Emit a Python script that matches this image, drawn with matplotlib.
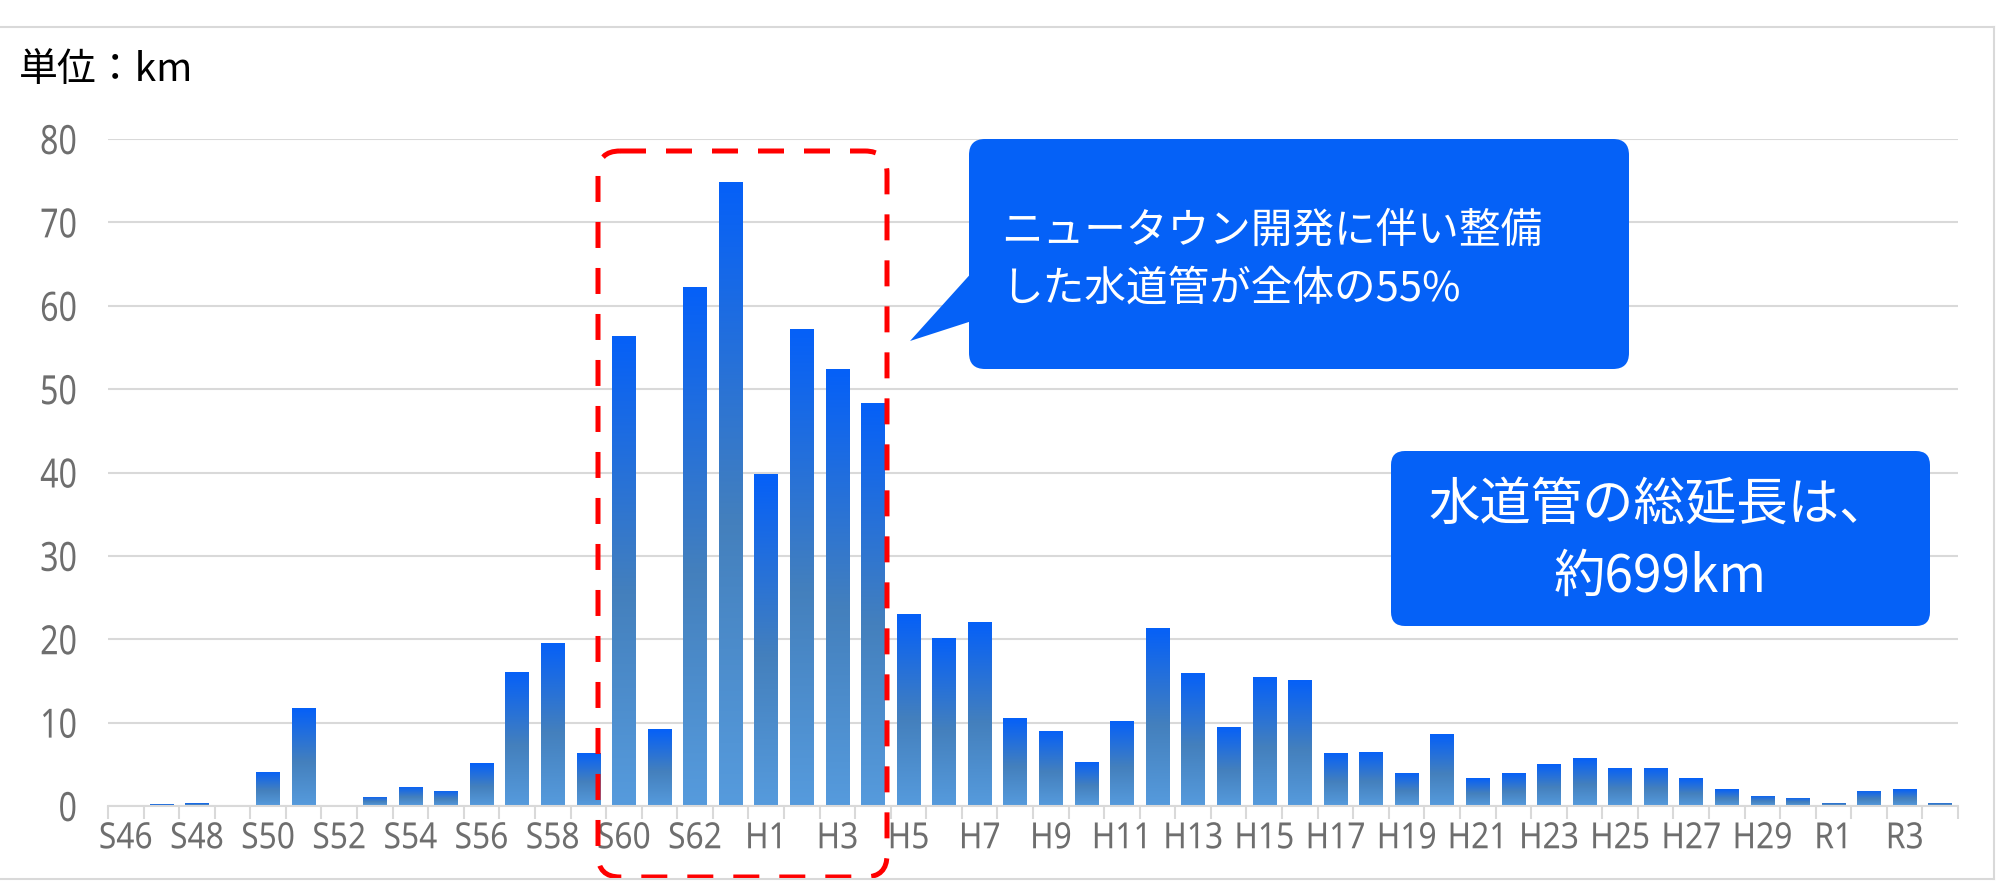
import numpy as np
import matplotlib
matplotlib.use("Agg")
import matplotlib.pyplot as plt
from matplotlib.colors import LinearSegmentedColormap
from matplotlib.patches import FancyBboxPatch, Polygon
from matplotlib.lines import Line2D
from matplotlib.patheffects import AbstractPathEffect
from matplotlib.transforms import Affine2D

# 年度 (S46〜S63, H1〜H30, R1〜R4)
years = ([f"S{i}" for i in range(46, 64)] + [f"H{i}" for i in range(1, 31)]
         + [f"R{i}" for i in range(1, 5)])

# 布設延長 (km)
lengths = [0.0, 0.2, 0.3, 0.0, 4.1, 11.7, 0.0, 1.1, 2.3, 1.8, 5.1, 16.1, 19.6, 6.4,
           56.4, 9.2, 62.2, 74.9,
           39.8, 57.2, 52.4, 48.3, 23.0, 20.2, 22.1, 10.5, 9.0, 5.3, 10.2, 21.4,
           16.0, 9.5, 15.5, 15.1, 6.4, 6.5, 4.0, 8.6, 3.3, 3.9, 5.0, 5.7, 4.6,
           4.6, 3.3, 2.0, 1.2, 1.0,
           0.4, 1.8, 2.0, 0.4]

yticks = [0, 10, 20, 30, 40, 50, 60, 70, 80]

unit_label = "単位：km"
note_lines = ["ニュータウン開発に伴い整備", "した水道管が全体の55%"]
total_lines = ["水道管の総延長は、", "約699km"]

GRID = "#D9D9D9"
TICK_TXT = "#6E6E6E"
BOX_BLUE = "#0561F7"
JP = "Noto Sans CJK JP"
TICK_FONT = ["Noto Sans", "DejaVu Sans"]


class Squeeze(AbstractPathEffect):
    """文字を横方向に詰めて描く (細い書体の代わり)"""

    def __init__(self, sx, anchor="center"):
        super().__init__()
        self.sx = sx
        self.anchor = anchor

    def draw_path(self, renderer, gc, tpath, affine, rgbFace=None):
        ext = tpath.get_extents()
        if self.anchor == "left":
            cx = ext.x0
        elif self.anchor == "right":
            cx = ext.x1
        else:
            cx = (ext.x0 + ext.x1) / 2
        sq = Affine2D().translate(-cx, 0).scale(self.sx, 1).translate(cx, 0)
        renderer.draw_path(gc, tpath, sq + affine, rgbFace)


W, H, DPI = 2000, 887, 100
fig = plt.figure(figsize=(W / DPI, H / DPI), dpi=DPI)
ax = fig.add_axes([108 / W, 1 - 807 / H, (1958 - 108) / W, (807 - 140) / H])

x = np.arange(len(years))
bars = ax.bar(x, lengths, width=0.66, color="none", edgecolor="none", zorder=3)

# グラデーション塗り
cmap = LinearSegmentedColormap.from_list(
    "bar", [(0.0, "#0560F8"), (0.55, "#4480BD"), (1.0, "#569BDD")])
grad = np.linspace(0, 1, 256).reshape(-1, 1)
for b in bars:
    h = b.get_height()
    if h <= 0:
        continue
    x0 = b.get_x()
    im = ax.imshow(grad, cmap=cmap, aspect="auto", origin="upper",
                   extent=(x0, x0 + b.get_width(), 0, h), zorder=3)
    im.set_clip_path(b)

ax.set_xlim(-0.5, len(years) - 0.5)
ax.set_ylim(0, 80)

ax.set_yticks(yticks)
ylabels = ax.set_yticklabels([str(v) for v in yticks], family=TICK_FONT,
                             fontsize=29, color=TICK_TXT)
ax.yaxis.grid(True, color=GRID, linewidth=1.5, zorder=0)
ax.set_axisbelow(True)

ax.set_xticks(x[::2])
xlabels = ax.set_xticklabels(years[::2], family=TICK_FONT, fontsize=26,
                             color=TICK_TXT)
ax.set_xticks(np.arange(-0.5, len(years), 1), minor=True)
ax.tick_params(axis="x", which="major", length=0, pad=11)
ax.tick_params(axis="x", which="minor", length=9, width=1.5, color=GRID, direction="out")
ax.tick_params(axis="y", length=0, pad=22)

for t in xlabels:
    t.set_path_effects([Squeeze(0.88, "center")])
for t in ylabels:
    t.set_path_effects([Squeeze(0.8, "right")])

for s in ["top", "right", "left"]:
    ax.spines[s].set_visible(False)
ax.spines["bottom"].set_color(GRID)
ax.spines["bottom"].set_linewidth(1.5)
ax.spines["bottom"].set_zorder(4)

# 注記用レイヤー (ピクセル座標)
ov = fig.add_axes([0, 0, 1, 1], zorder=5)
ov.set_xlim(0, W)
ov.set_ylim(H, 0)
ov.axis("off")
ov.patch.set_visible(False)

# 枠線
for xs, ys in [([0, 1994], [28, 28]), ([1994, 1994], [28, 880]), ([0, 1994], [880, 880])]:
    ov.add_line(Line2D(xs, ys, color=GRID, linewidth=1.5))

ov.text(19, 70, unit_label, family=JP, fontsize=28, color="black",
        ha="left", va="center")

# 赤い点線の囲み
ov.add_patch(FancyBboxPatch((598, 152), 289, 726,
                            boxstyle="round,pad=0,rounding_size=22",
                            facecolor="none", edgecolor="#FF0000",
                            linewidth=3.6, linestyle=(0, (5.2, 4.0))))

# 吹き出し
ov.add_patch(FancyBboxPatch((969, 140), 660, 230,
                            boxstyle="round,pad=0,rounding_size=16",
                            facecolor=BOX_BLUE, edgecolor="none"))
ov.add_patch(Polygon([(975, 270), (910, 342), (975, 321)], closed=True,
                     facecolor=BOX_BLUE, edgecolor="none"))
ov.text(1001, 231, note_lines[0], family=JP, fontsize=30, color="white",
        ha="left", va="center")
ov.text(1001, 289, note_lines[1], family=JP, fontsize=30, color="white",
        ha="left", va="center")

ov.add_patch(FancyBboxPatch((1391, 452), 539, 175,
                            boxstyle="round,pad=0,rounding_size=14",
                            facecolor=BOX_BLUE, edgecolor="none"))
ov.text(1660, 505, total_lines[0], family=JP, fontsize=37, color="white",
        ha="center", va="center")
ov.text(1660, 577, total_lines[1], family=JP, fontsize=37, color="white",
        ha="center", va="center")

fig.savefig("out.png", dpi=DPI)
